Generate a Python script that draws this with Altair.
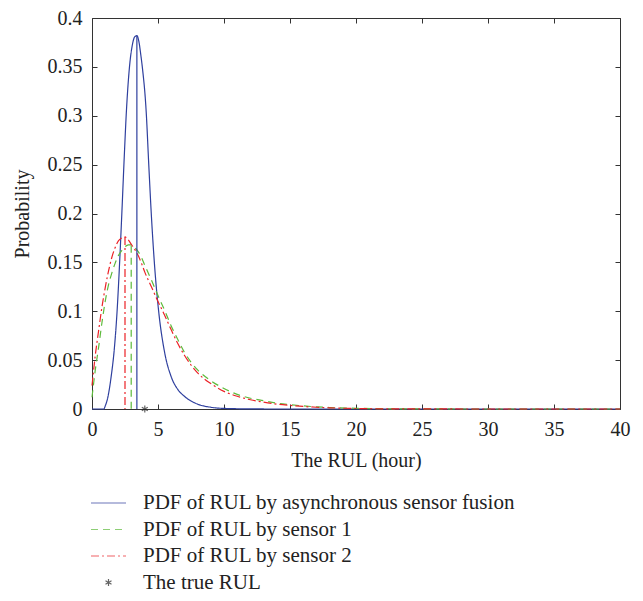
import altair as alt
import pandas as pd

series_names = [
    "PDF of RUL by asynchronous sensor fusion",
    "PDF of RUL by sensor 1",
    "PDF of RUL by sensor 2",
    "The true RUL",
]
series_colors = ["#2e3f9e", "#5dba3b", "#ec2227", "#222222"]
series_dashes = [[1, 0], [7, 5], [8, 3, 2, 3], [1, 0]]
line_symbol = "M-1.75,0L1.75,0"
asterisk = "M0,-0.35L0,0.35M-0.3,-0.175L0.3,0.175M-0.3,0.175L0.3,-0.175"
series_shapes = [line_symbol, line_symbol, line_symbol, asterisk]

# PDF of RUL by asynchronous sensor fusion
fusion_x = [0, 0.5, 0.9, 1.0, 1.2, 1.45, 1.7, 1.9, 2.1, 2.26, 2.45, 2.6, 2.84, 3.05,
            3.25, 3.4, 3.55, 3.7, 3.81, 4.11, 4.3, 4.49, 4.75, 5.05, 5.5, 6.0, 6.5,
            7.0, 8.0, 9.0, 10, 12, 14, 40]
fusion_y = [0, 0, 0.0, 0.003, 0.012, 0.033, 0.063, 0.100, 0.152, 0.2, 0.26, 0.303,
            0.35, 0.372, 0.381, 0.382, 0.376, 0.362, 0.35, 0.303, 0.25, 0.2, 0.145,
            0.100, 0.058, 0.033, 0.020, 0.013, 0.005, 0.0018, 0.0006, 0.0001, 0, 0]

# PDF of RUL by sensor 1
s1_x = [0, 0.25, 0.5, 0.75, 1.0, 1.25, 1.5, 1.75, 2.0, 2.25, 2.5, 2.75, 3.0, 3.25,
        3.5, 3.75, 4.0, 4.5, 5.0, 5.5, 6.0, 6.5, 7.0, 7.5, 8.0, 9.0, 10, 11, 12, 13,
        14, 15, 16, 17, 18, 20, 22, 25, 30, 40]
s1_y = [0.012, 0.04, 0.063, 0.088, 0.11, 0.127, 0.139, 0.149, 0.157, 0.162, 0.166,
        0.168, 0.168, 0.165, 0.161, 0.155, 0.147, 0.132, 0.116, 0.101, 0.085, 0.071,
        0.058, 0.048, 0.040, 0.029, 0.021, 0.015, 0.011, 0.0085, 0.006, 0.0045,
        0.0032, 0.0022, 0.0015, 0.0007, 0.0003, 0.0001, 0, 0]

# PDF of RUL by sensor 2
s2_x = [0, 0.25, 0.5, 0.75, 1.0, 1.25, 1.5, 1.75, 2.0, 2.25, 2.5, 2.75, 3.0, 3.25,
        3.5, 3.75, 4.0, 4.5, 5.0, 5.5, 6.0, 6.5, 7.0, 7.5, 8.0, 9.0, 10, 11, 12, 13,
        14, 15, 16, 17, 18, 20, 22, 25, 30, 40]
s2_y = [0.024, 0.055, 0.08, 0.104, 0.124, 0.141, 0.155, 0.165, 0.172, 0.175, 0.176,
        0.173, 0.168, 0.163, 0.157, 0.149, 0.14, 0.125, 0.11, 0.096, 0.081, 0.067,
        0.055, 0.045, 0.037, 0.026, 0.018, 0.013, 0.0095, 0.007, 0.005, 0.0037,
        0.0026, 0.0018, 0.0012, 0.0005, 0.0002, 0.0001, 0, 0]

# modes (vertical lines) of each PDF
mode_x = [3.4, 2.97, 2.5]
mode_y = [0.382, 0.167, 0.176]
mode_base = [0, 0, 0]

true_rul_x = [4.0]
true_rul_y = [0.0]

x_ticks = [0, 5, 10, 15, 20, 25, 30, 35, 40]
y_ticks = [0, 0.05, 0.1, 0.15, 0.2, 0.25, 0.3, 0.35, 0.4]

lines_df = pd.DataFrame({
    "x": fusion_x + s1_x + s2_x,
    "y": fusion_y + s1_y + s2_y,
    "series": [series_names[0]] * len(fusion_x)
    + [series_names[1]] * len(s1_x)
    + [series_names[2]] * len(s2_x),
})
modes_df = pd.DataFrame({"x": mode_x, "y": mode_y, "base": mode_base,
                         "series": series_names[:3]})
true_df = pd.DataFrame({"x": true_rul_x, "y": true_rul_y, "series": [series_names[3]]})

FONT = "Liberation Serif"

color_enc = alt.Color("series:N",
                      scale=alt.Scale(domain=series_names, range=series_colors),
                      legend=alt.Legend(title=None))
dash_enc = alt.StrokeDash("series:N",
                          scale=alt.Scale(domain=series_names, range=series_dashes),
                          legend=alt.Legend(title=None))
shape_enc = alt.Shape("series:N",
                      scale=alt.Scale(domain=series_names, range=series_shapes),
                      legend=alt.Legend(title=None))

lines = alt.Chart(lines_df).mark_line(strokeWidth=1.2, interpolate="monotone").encode(
    x=alt.X("x:Q", scale=alt.Scale(domain=[0, 40], nice=False, zero=False),
            axis=alt.Axis(orient="bottom", values=x_ticks, format="d",
                          title="The RUL (hour)", offset=-5, tickSize=5,
                          domain=False, labelPadding=10, titlePadding=11,
                          labelFlush=False)),
    y=alt.Y("y:Q", scale=alt.Scale(domain=[0, 0.4], nice=False),
            axis=alt.Axis(orient="left", values=y_ticks, format="~g",
                          title="Probability", offset=-5, tickSize=5,
                          domain=False, labelPadding=10, titlePadding=15,
                          labelFlush=False)),
    color=color_enc,
    strokeDash=dash_enc,
)

rules = alt.Chart(modes_df).mark_rule(strokeWidth=1.2).encode(
    x=alt.X("x:Q", axis=alt.Axis(orient="top", values=x_ticks, labels=False,
                                  title=None, offset=-5, tickSize=5, domain=False)),
    y=alt.Y("y:Q", axis=alt.Axis(orient="right", values=y_ticks, labels=False,
                                  title=None, offset=-5, tickSize=5, domain=False)),
    y2="base:Q",
    color=color_enc,
    strokeDash=dash_enc,
)

point = alt.Chart(true_df).mark_point(size=400, filled=False, strokeWidth=1.2).encode(
    x=alt.X("x:Q", axis=None),
    y=alt.Y("y:Q", axis=None),
    color=color_enc,
    shape=shape_enc,
)

chart = alt.layer(lines, rules, point).resolve_axis(
    x="independent", y="independent"
).properties(
    width=528, height=391,
    padding={"left": 84, "top": 10, "right": 15, "bottom": 184},
    autosize=alt.AutoSizeParams(type="none"),
).configure_view(
    stroke="#333333", strokeWidth=1
).configure_axis(
    grid=False, labelFont=FONT, titleFont=FONT, labelFontSize=20, titleFontSize=20,
    labelColor="#222222", titleColor="#222222", titleFontWeight="normal",
    tickColor="#333333", tickWidth=1,
).configure_legend(
    orient="none", legendX=5.5, legendY=474, direction="vertical",
    labelFont=FONT, labelFontSize=21, labelColor="#222222", symbolSize=400,
    symbolStrokeWidth=1.2, labelOffset=23.5, rowPadding=5.5, padding=0,
    labelLimit=600,
)

chart.save("out.html", embed_options={"renderer": "svg", "actions": False})
